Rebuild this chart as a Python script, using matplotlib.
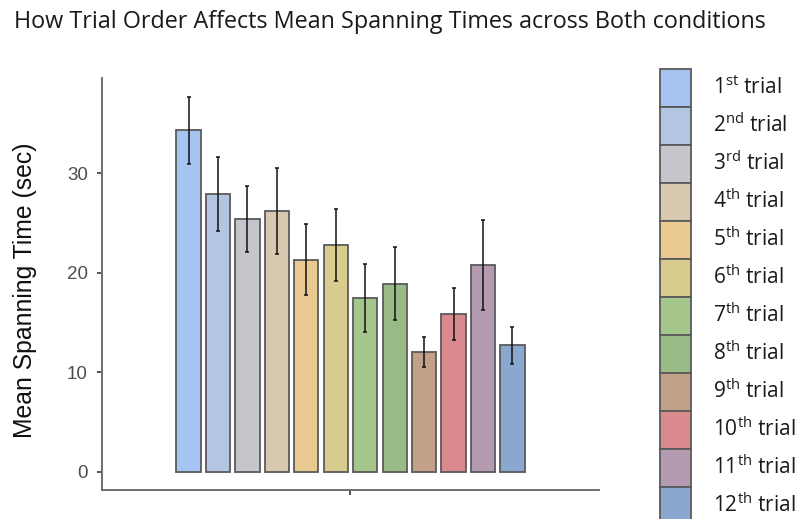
import matplotlib
matplotlib.use("Agg")
import matplotlib.pyplot as plt
import numpy as np

# Mean spanning time per trial position (sec), with error bar half-widths
trials = ["1st", "2nd", "3rd", "4th", "5th", "6th",
          "7th", "8th", "9th", "10th", "11th", "12th"]
means = [34.3, 27.9, 25.4, 26.2, 21.3, 22.8, 17.5, 18.9, 12.05, 15.9, 20.8, 12.7]
errs = [3.35, 3.7, 3.35, 4.3, 3.55, 3.6, 3.4, 3.65, 1.5, 2.6, 4.5, 1.85]
colors = ["#a6c4f2", "#b3c5e1", "#c4c6cc", "#d7c8b0", "#eac990", "#d7cc8d",
          "#a5c78b", "#98bb86", "#c3a189", "#da8a8f", "#b59bb1", "#8aa8cf"]

plt.rcParams["mathtext.fontset"] = "custom"
plt.rcParams["mathtext.rm"] = "Open Sans"

W, H = 804, 519
fig = plt.figure(figsize=(W / 100, H / 100), dpi=100)
ax = fig.add_axes([102 / W, (H - 490) / H, (599 - 102) / W, (490 - 78) / H])

x = np.arange(len(means))
bars = ax.bar(x, means, width=0.82, color=colors, edgecolor="#5a5a5a",
              linewidth=1.3, zorder=2)
ax.errorbar(x, means, yerr=errs, fmt="none", ecolor="#111111",
            elinewidth=1.1, capsize=1.3, capthick=1.1, zorder=3)

ax.set_xlim(5.5 - 8.44, 5.5 + 8.44)
ax.set_ylim(-1.81, 39.56)
ax.set_yticks([0, 10, 20, 30])
ax.set_xticks([5.5])
ax.set_xticklabels([""])
for s in ["top", "right"]:
    ax.spines[s].set_visible(False)
for s in ["left", "bottom"]:
    ax.spines[s].set_color("#707070")
    ax.spines[s].set_linewidth(1.4)
ax.tick_params(axis="both", colors="#555555", length=3.6, width=1.4,
               labelsize=13.5, pad=6.5)
for lab in ax.get_yticklabels():
    lab.set_family("Liberation Sans")
    lab.set_color("#4d4d4d")

ax.set_ylabel("Mean Spanning Time (sec)", family="Liberation Sans",
              fontsize=17.8, color="#111111")
ax.yaxis.set_label_coords(-0.131, 0.485)

fig.text(14 / W, 1 - 28 / H, "How Trial Order Affects Mean Spanning Times across Both conditions",
         family="Open Sans", fontsize=16.8, color="#1a1a1a", ha="left", va="baseline")

fs = 15
labels = [r"%s$^{\mathrm{%s}}$ trial" % (t[:-2], t[-2:]) for t in trials]
leg = fig.legend(bars, labels, loc="upper left",
                 bbox_to_anchor=(660 / W, 1 - 69 / H), frameon=False,
                 borderpad=0, borderaxespad=0, labelspacing=0,
                 handlelength=22.32 / fs, handleheight=(27.36 / fs - 0.245) / 0.65,
                 handletextpad=1.05, prop={"family": "Open Sans", "size": fs})
for t in leg.get_texts():
    t.set_color("#1a1a1a")

fig.savefig("out.png", dpi=100)
